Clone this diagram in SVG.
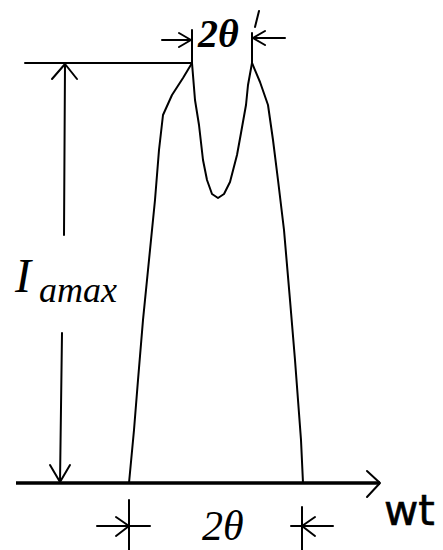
<svg xmlns="http://www.w3.org/2000/svg" width="443" height="550" viewBox="0 0 443 550">
<style>
.ln{stroke:#000;stroke-width:2;fill:none;stroke-linecap:round;stroke-linejoin:round}
.cv{stroke:#000;stroke-width:2;fill:none;stroke-linejoin:round}
.ax{stroke:#000;stroke-width:3.5;fill:none}
.ser{font-family:"Liberation Serif","Times New Roman",serif;font-style:italic;fill:#000}
.sans{font-family:"DejaVu Sans",Verdana,sans-serif;fill:#000}
</style>
<rect width="443" height="550" fill="#fff"/>
<g id="axis">
<line class="ax" x1="16" y1="483" x2="380" y2="483"/>
<polyline class="ln" points="367,471 380,483 367,497"/>
<text class="sans" x="384" y="525" font-size="42" stroke="#000" stroke-width="0.6">wt</text>
</g>
<g id="waveform">
<path class="cv" d="M129,483 L134,430 L138,380 L143,320 L149,260 L155,200 L159,150 L163,115 L172,95 L183,78 L192,63"/>
<path class="cv" d="M192,63 L195,100 L199,125 L203,160 L207,180 L212,194 L218,198 L224,194 L230,182 L237,155 L241,133 L246,105 L248,85 L252,63"/>
<path class="cv" d="M252,63 L260,82 L268,105 L273,140 L278,180 L284,230 L290,300 L295,360 L298,400 L301,440 L303,483"/>
</g>
<g id="amplitude">
<line class="ln" x1="25" y1="63" x2="192" y2="63"/>
<line class="ln" x1="65" y1="64" x2="64" y2="235"/>
<line class="ln" x1="62" y1="333" x2="60" y2="482"/>
<polyline class="ln" points="52,79 65,64 77,79"/>
<polyline class="ln" points="50,465 60,482 70,465"/>
<text class="ser" x="15" y="292" font-size="48">I</text>
<text class="ser" x="39" y="302" font-size="36">amax</text>
</g>
<g id="top-angle">
<line class="ln" x1="192" y1="30" x2="192" y2="63"/>
<line class="ln" x1="252" y1="33" x2="252" y2="63"/>
<line class="ln" x1="162" y1="40" x2="191" y2="40"/>
<polyline class="ln" points="179,33 191,40 179,47"/>
<line class="ln" x1="253" y1="38" x2="285" y2="38"/>
<polyline class="ln" points="265,31 253,38 265,45"/>
<text class="ser" x="198" y="47" font-size="40" font-weight="bold">2θ</text>
<line class="ln" x1="259" y1="11" x2="255" y2="27" stroke-width="3"/>
</g>
<g id="bottom-angle">
<line class="ln" x1="129" y1="500" x2="129" y2="550"/>
<line class="ln" x1="302" y1="507" x2="302" y2="550"/>
<line class="ln" x1="97" y1="526" x2="150" y2="526"/>
<polyline class="ln" points="116,517 129,526 116,536"/>
<line class="ln" x1="291" y1="526" x2="333" y2="526"/>
<polyline class="ln" points="315,517 302,526 315,536"/>
<text class="sans" x="202" y="540" font-size="42" style="font-family:'Liberation Serif',serif;font-style:italic">2θ</text>
</g>
</svg>
